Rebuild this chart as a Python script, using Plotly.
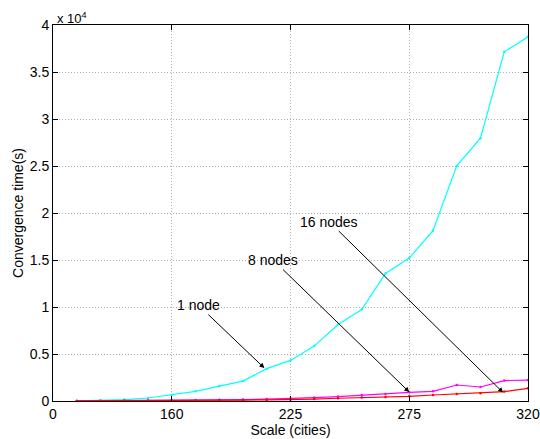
import plotly.graph_objects as go

# x positions (evenly spaced sample index), tick labels
x_index = list(range(1, 21))
tick_positions = [0, 5, 10, 15, 20]
tick_labels = ["0", "160", "225", "275", "320"]

node1 = [20, 50, 150, 320, 640, 1030, 1590, 2120, 3440, 4320,
         5840, 8140, 9730, 13560, 15220, 18120, 25020, 27960, 37150, 38750]
node8 = [10, 20, 30, 50, 70, 90, 120, 150, 200, 250,
         360, 470, 640, 740, 920, 1030, 1700, 1490, 2170, 2230]
node16 = [5, 10, 20, 30, 40, 60, 80, 100, 120, 150,
          210, 290, 360, 420, 500, 640, 740, 820, 1000, 1350]

y_ticks = [0, 5000, 10000, 15000, 20000, 25000, 30000, 35000, 40000]
y_labels = ["0", "0.5", "1", "1.5", "2", "2.5", "3", "3.5", "4"]

font_family = "Liberation Sans, Arial, sans-serif"

fig = go.Figure()
for ys, col in [(node1, "#00FFFF"), (node8, "#FF00FF"), (node16, "#FF0000")]:
    fig.add_trace(go.Scatter(x=x_index, y=ys, mode="lines+markers",
                             line=dict(color=col, width=1.2),
                             marker=dict(color=col, size=2.5),
                             showlegend=False))

axis_common = dict(showline=True, linecolor="black", linewidth=1, mirror="ticks",
                   ticks="inside", ticklen=5, tickcolor="black", automargin=False,
                   showgrid=True, gridcolor="#b0b0b0", griddash="1px,2px", gridwidth=1,
                   zeroline=False, tickfont=dict(size=14, color="black", family=font_family))

fig.update_xaxes(range=[0, 20], tickvals=tick_positions, ticktext=tick_labels,
                 title=dict(text="Scale (cities)", font=dict(size=14, color="black", family=font_family), standoff=0),
                 **axis_common)
fig.update_yaxes(range=[0, 40000], tickvals=y_ticks, ticktext=y_labels,
                 title=dict(text="Convergence time(s)", font=dict(size=14, color="black", family=font_family), standoff=2),
                 **axis_common)

ann_font = dict(size=14, color="black", family=font_family)
fig.add_annotation(x=8.9, y=3500, xref="x", yref="y", text="1 node", showarrow=True,
                   ax=-66, ay=-63, arrowhead=2, arrowsize=1, arrowwidth=1,
                   arrowcolor="black", font=ann_font)
fig.add_annotation(x=15, y=950, xref="x", yref="y", text="8 nodes", showarrow=True,
                   ax=-136, ay=-132, arrowhead=2, arrowsize=1, arrowwidth=1,
                   arrowcolor="black", font=ann_font)
fig.add_annotation(x=18.95, y=900, xref="x", yref="y", text="16 nodes", showarrow=True,
                   ax=-174, ay=-171, arrowhead=2, arrowsize=1, arrowwidth=1,
                   arrowcolor="black", font=ann_font)
fig.add_annotation(x=0, y=1, xref="paper", yref="paper", xanchor="left", yanchor="bottom",
                   text="x 10<sup>4</sup>", showarrow=False, xshift=2, yshift=-3,
                   font=dict(size=13, color="black", family=font_family))

fig.update_layout(width=540, height=439, margin=dict(l=53, r=12, t=25, b=38),
                  plot_bgcolor="white", paper_bgcolor="white", font=dict(family=font_family))

# remove the default 8px page margin so the figure fills the window exactly
fig.write_html("out.html", config={"displayModeBar": False},
               post_script="document.body.style.margin='0';document.body.style.overflow='hidden';")
